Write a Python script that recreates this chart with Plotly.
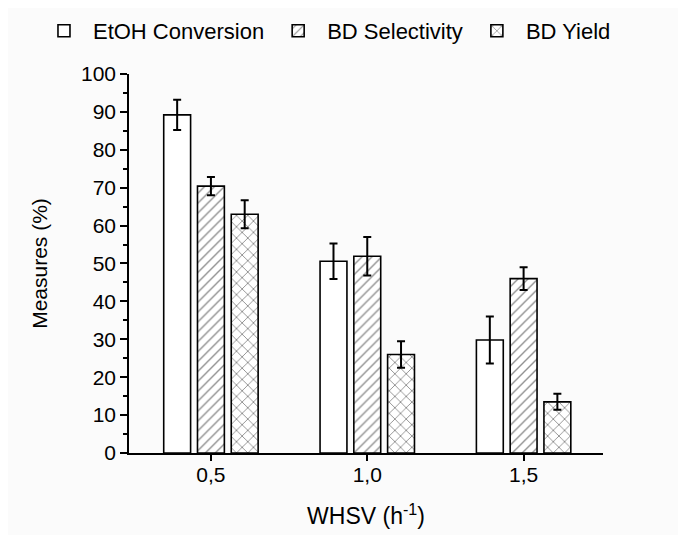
import plotly.graph_objects as go

whsv = [0.5, 1.0, 1.5]
whsv_labels = ["0,5", "1,0", "1,5"]

etoh_conv = [89.2, 50.6, 29.8]
etoh_err = [4.0, 4.7, 6.2]
bd_sel = [70.4, 51.9, 46.0]
bd_sel_err = [2.4, 5.1, 3.0]
bd_yield = [63.0, 26.0, 13.5]
bd_yield_err = [3.7, 3.5, 2.1]

FONT = "Liberation Sans, Arial, sans-serif"
BG = "#fbfbfb"

def err(a):
    return dict(type="data", array=a, visible=True, color="black", thickness=2, width=4)

fig = go.Figure()
fig.add_trace(go.Bar(
    name="EtOH Conversion", x=whsv, y=etoh_conv, error_y=err(etoh_err),
    marker=dict(color="white", line=dict(color="black", width=1.6)),
))
fig.add_trace(go.Bar(
    name="BD Selectivity", x=whsv, y=bd_sel, error_y=err(bd_sel_err),
    marker=dict(color="white", line=dict(color="black", width=1.6),
                pattern=dict(shape="/", fgcolor="#222222", bgcolor="white", size=7, solidity=0.2)),
))
fig.add_trace(go.Bar(
    name="BD Yield", x=whsv, y=bd_yield, error_y=err(bd_yield_err),
    marker=dict(color="white", line=dict(color="black", width=1.6),
                pattern=dict(shape="x", fgcolor="#222222", bgcolor="white", size=8, solidity=0.22)),
))

fig.update_layout(
    width=678, height=527,
    margin=dict(l=10, r=10, t=10, b=82, autoexpand=False),
    paper_bgcolor=BG, plot_bgcolor=BG,
    font=dict(family=FONT, size=21, color="black"),
    barmode="group", bargap=0.352, bargroupgap=0.204,
    showlegend=True,
    legend=dict(orientation="h", xref="paper", yref="paper",
                x=0.0258, y=0.9701, xanchor="left", yanchor="middle",
                font=dict(size=22), bgcolor="rgba(0,0,0,0)",
                itemwidth=48, traceorder="normal"),
    xaxis=dict(range=[0.238, 1.754], domain=[0.1687, 0.8891],
               tickvals=whsv, ticktext=whsv_labels,
               showline=True, linecolor="black", linewidth=2,
               ticks="outside", ticklen=6, tickwidth=1.5, tickcolor="black",
               showgrid=False, zeroline=False, automargin=False,
               tickfont=dict(size=21), ticklabelstandoff=-4,
               title=dict(text="WHSV (h<sup>-1</sup>)", font=dict(size=23), standoff=23)),
    yaxis=dict(range=[0, 100], dtick=10, domain=[0, 0.8713],
               showline=True, linecolor="black", linewidth=1.5,
               ticks="outside", ticklen=7, tickwidth=1.5, tickcolor="black",
               minor=dict(dtick=5, ticks="outside", ticklen=4, tickwidth=1.5, tickcolor="black"),
               showgrid=False, zeroline=False, automargin=False,
               tickfont=dict(size=21),
               title=dict(text="Measures (%)", font=dict(size=21), standoff=28)),
)

fig.write_html("out.html")
